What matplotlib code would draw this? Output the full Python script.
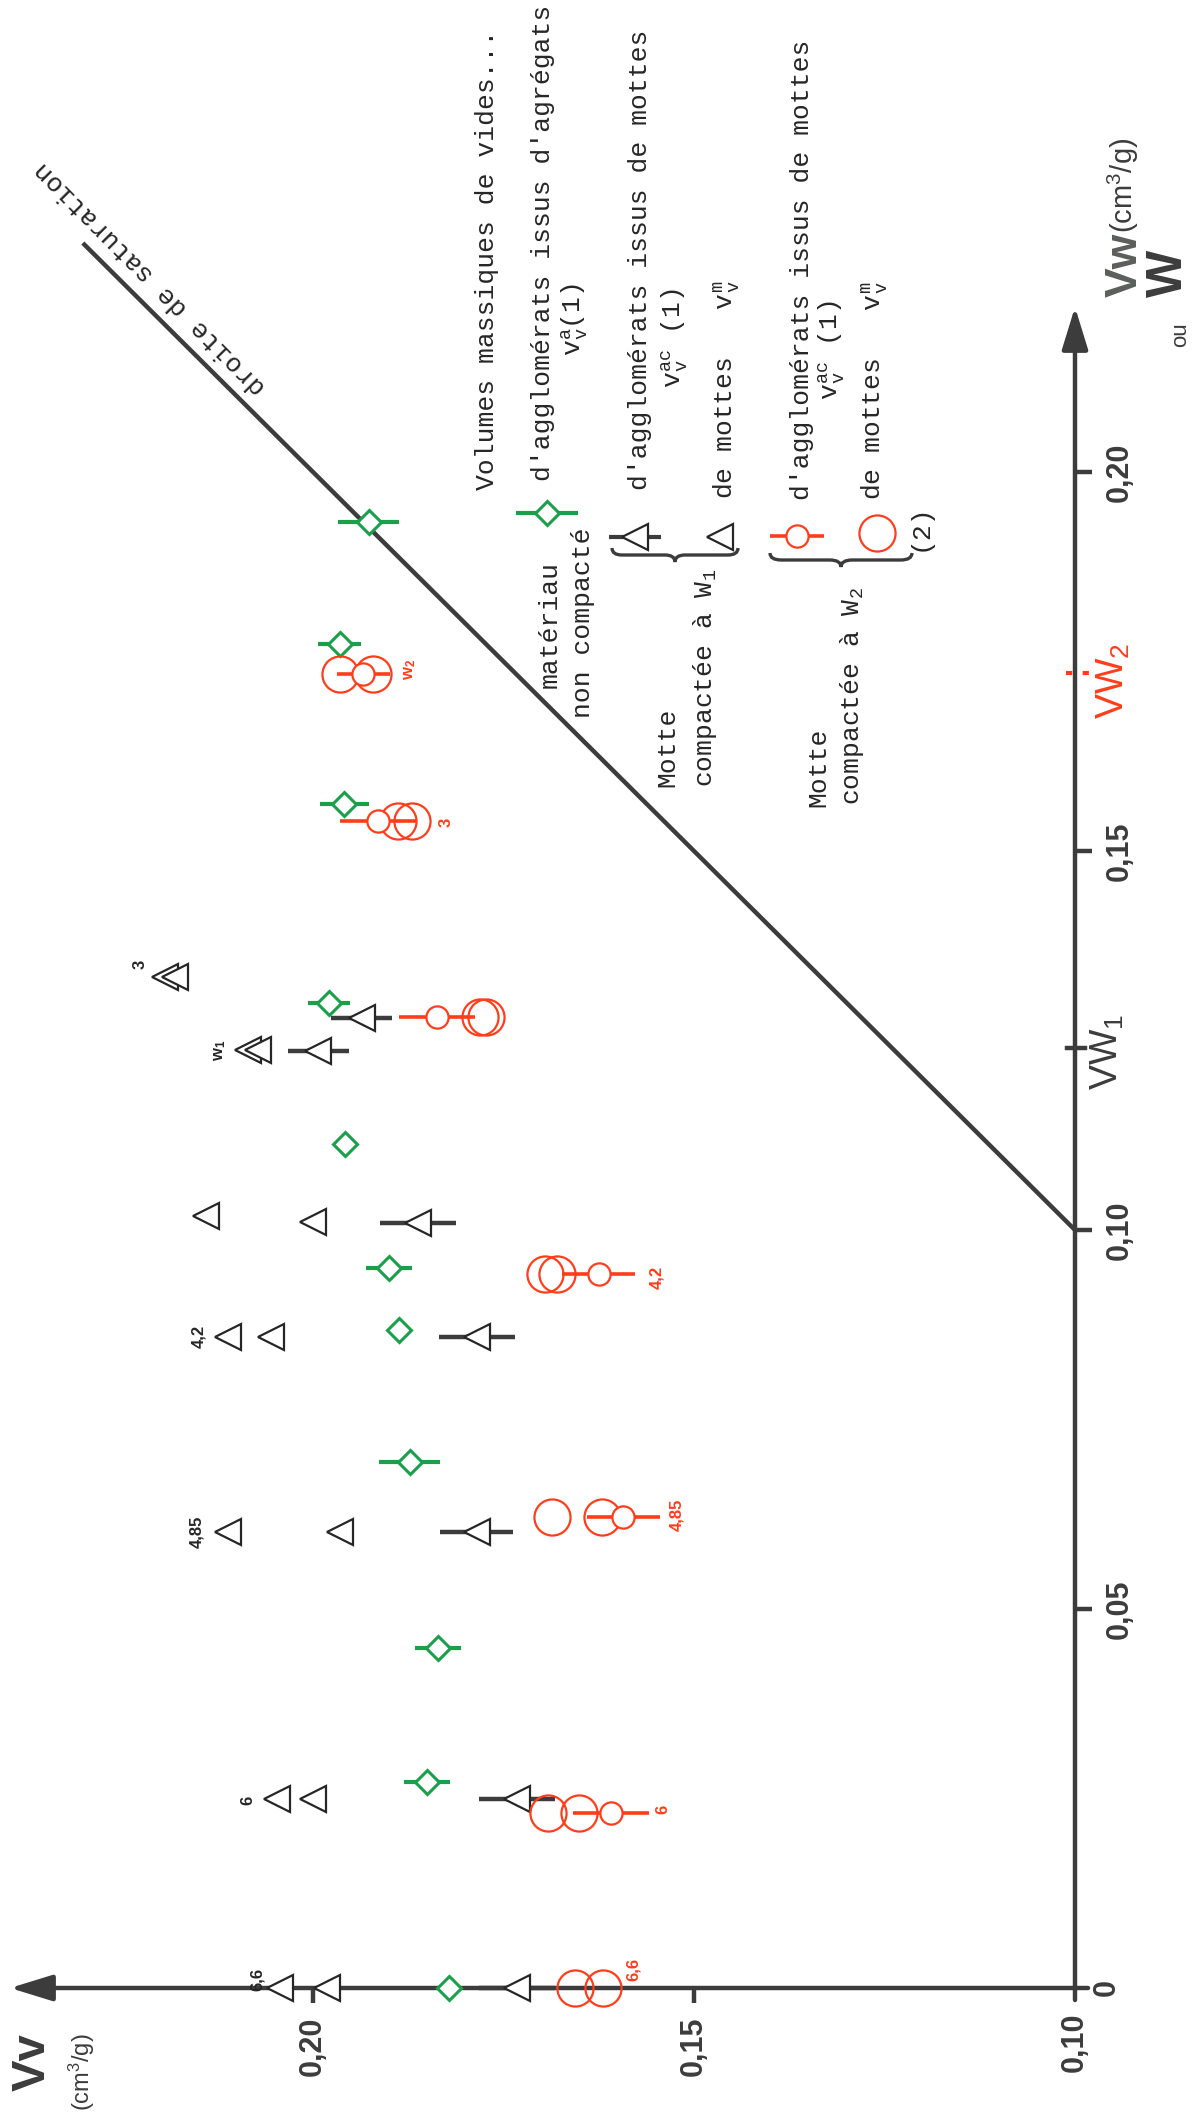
import matplotlib.pyplot as plt
import numpy as np
from matplotlib.path import Path
from matplotlib.patches import PathPatch

# volumes massiques de vides Vv (cm3/g) against water content W
# matériau non compacté : agglomérats issus d'agrégats (green diamonds)
w_agg = [0.0, 0.0272, 0.0449, 0.0694, 0.0868, 0.0950, 0.1113, 0.1299, 0.1562, 0.1773, 0.1934]
vv_agg = [0.1822, 0.1850, 0.1836, 0.1873, 0.1887, 0.1900, 0.1958, 0.1979, 0.1959, 0.1965, 0.1927]
err_agg = [0.0, 0.0030, 0.0030, 0.0040, 0.0015, 0.0030, 0.0, 0.0028, 0.0032, 0.0028, 0.0040]

# motte compactée à W1 : agglomérats issus de mottes (with bar) and mottes
w_ac1 = [0.0, 0.0249, 0.0602, 0.0859, 0.1009, 0.1236, 0.1280]
vv_ac1 = [0.1732, 0.1732, 0.1785, 0.1785, 0.1862, 0.1993, 0.1936]
err_ac1 = [0.0050, 0.0050, 0.0048, 0.0050, 0.0050, 0.0040, 0.0040]
w_m1 = [0.0, 0.0, 0.0249, 0.0249, 0.0602, 0.0602, 0.0859, 0.0859, 0.1018, 0.1011, 0.1237, 0.1237, 0.1334, 0.1334]
vv_m1 = [0.2043, 0.1982, 0.2047, 0.2000, 0.2112, 0.1965, 0.2112, 0.2055, 0.2140, 0.2000, 0.2085, 0.2072, 0.2194, 0.2181]

# motte compactée à W2
w_ac2 = [0.0231, 0.0621, 0.0942, 0.1281, 0.1540, 0.1734]
vv_ac2 = [0.1609, 0.1593, 0.1625, 0.1837, 0.1915, 0.1934]
err_ac2 = [0.0050, 0.0048, 0.0048, 0.0050, 0.0050, 0.0035]
w_m2 = [0.0, 0.0, 0.0231, 0.0231, 0.0621, 0.0621, 0.0942, 0.0942, 0.1281, 0.1281, 0.1540, 0.1540, 0.1734, 0.1734]
vv_m2 = [0.1656, 0.1619, 0.1692, 0.1651, 0.1686, 0.1621, 0.1696, 0.1680, 0.1781, 0.1773, 0.1888, 0.1870, 0.1965, 0.1921]

# sample labels (water content of the clods)
lab_m1 = ['6,6', '6', '4,85', '4,2', r'w$\mathregular{_1}$', '3']
lab_m1_vv = [0.2073, 0.2085, 0.2152, 0.2150, 0.2122, 0.2227]
lab_m1_w = [0.0011, 0.0248, 0.0602, 0.0860, 0.1237, 0.1350]
lab_m2 = ['6,6', '6', '4,85', '4,2', '3', r'w$\mathregular{_2}$']
lab_m2_vv = [0.1580, 0.1541, 0.1522, 0.1549, 0.1825, 0.1873]
lab_m2_w = [0.0024, 0.0235, 0.0624, 0.0938, 0.1538, 0.1739]

# saturation line Vv = W
sat_w = [0.10, 0.2300]

vv_ticks = [0.15, 0.20]
vv_ticklabels = ['0,15', '0,20']
w_ticks = [0.05, 0.10, 0.15, 0.20]
w_ticklabels = ['0,05', '0,10', '0,15', '0,20']
W1 = 0.124
W2 = 0.1735

GREEN = '#1a9f4a'
RED = '#ff3d1a'
DARK = '#3c3c3c'
BLACK = '#262626'
MONO = 'Liberation Mono'
SANS = 'Liberation Sans'

# the scan is turned a quarter turn: Vv runs to the left, W runs up
X0, Y0 = 1075, 1988
PX_V, PX_W = 7620, 7580


def px_v(x):
    return 0.10 + (X0 - x) / PX_V


def px_w(y):
    return (Y0 - y) / PX_W


fig = plt.figure(figsize=(11.92, 21.26), dpi=100)
ax = fig.add_axes([0, 0, 1, 1])
ax.set_xlim(px_v(0), px_v(1192))
ax.set_ylim(px_w(2126), px_w(0))
ax.axis('off')

# axes with arrows
arrow = dict(arrowstyle='-|>,head_length=1.3,head_width=0.4', color=DARK, lw=3.2,
             shrinkA=0, shrinkB=0, mutation_scale=20)
ax.annotate('', xy=(px_v(10), 0), xytext=(px_v(1088), 0), arrowprops=arrow)
ax.annotate('', xy=(0.10, px_w(307)), xytext=(0.10, px_w(2000)), arrowprops=arrow)

for t in vv_ticks:
    ax.plot([t, t], [0, px_w(2003)], color=DARK, lw=3.2, solid_capstyle='butt')
for t in w_ticks:
    ax.plot([0.10, px_v(1092)], [t, t], color=DARK, lw=3.2, solid_capstyle='butt')
ax.plot([px_v(1067), px_v(1085)], [W1, W1], color=DARK, lw=3.2)
ax.plot([px_v(1066), px_v(1090)], [W2, W2], color=RED, lw=3, ls=(0, (1.5, 2.5)))

bold = dict(family=SANS, weight='bold', rotation=90, ha='center', va='center', color=DARK)
for t, s in zip(vv_ticks, vv_ticklabels):
    ax.text(t, px_w(2046), s, fontsize=22, **bold)
ax.text(0.10, px_w(2042), '0,10', fontsize=22, **bold)
for t, s in zip(w_ticks, w_ticklabels):
    ax.text(px_v(1120), t, s, fontsize=22, **bold)
ax.text(px_v(1107), 0, '0', fontsize=22, **bold)

ax.text(px_v(33), px_w(2062), 'Vv', fontsize=34, **bold)
ax.text(px_v(82), px_w(2072), r'(cm$\mathregular{^3}$/g)', fontsize=17, family=SANS,
        rotation=90, ha='center', va='center', color=DARK)
ax.text(px_v(1125), px_w(265), 'Vw', fontsize=32, family=SANS, weight='bold', rotation=90,
        ha='center', va='center', color='#5a5f5c')
ax.text(px_v(1123), px_w(185), r'(cm$\mathregular{^3}$/g)', fontsize=21, family=SANS,
        rotation=90, ha='center', va='center', color=DARK)
ax.text(px_v(1169), px_w(273), 'W', fontsize=36, **bold)
ax.text(px_v(1181), px_w(335), 'ou', fontsize=16, family=SANS, rotation=90,
        ha='center', va='center', color=DARK)
ax.text(px_v(1107), W1 - 0.0005, r'VW$\mathregular{_1}$', fontsize=27, family=SANS,
        rotation=90, ha='center', va='center', color=DARK)
ax.text(px_v(1113), W2 - 0.001, r'VW$\mathregular{_2}$', fontsize=27, family=SANS,
        rotation=90, ha='center', va='center', color=RED)

# droite de saturation
ax.plot(sat_w, sat_w, color=DARK, lw=3.2)
ax.text(px_v(150), px_w(278), 'droite de saturation', fontsize=19, family=MONO,
        rotation=134.8, ha='center', va='center', color=BLACK)

# style of each kind of point
diamond = dict(ls='none', marker='D', ms=12.5, mfc='white', mec=GREEN, mew=2.2, zorder=4)
tri = dict(ls='none', marker='<', ms=19, mfc='white', mec=BLACK, mew=1.6, zorder=4)
small_c = dict(ls='none', marker='o', ms=16, mfc='white', mec=RED, mew=1.6, zorder=4)
big_c = dict(ls='none', marker='o', ms=26, mfc='none', mec=RED, mew=1.6, zorder=4)

ax.errorbar(vv_agg, w_agg, xerr=err_agg, fmt='none', ecolor=GREEN, elinewidth=3, capsize=0, zorder=3)
ax.plot(vv_agg, w_agg, **diamond)
ax.errorbar(vv_ac1, w_ac1, xerr=err_ac1, fmt='none', ecolor=DARK, elinewidth=3.2, capsize=0, zorder=3)
ax.plot(vv_ac1, w_ac1, **tri)
ax.plot(vv_m1, w_m1, **tri)
ax.errorbar(vv_ac2, w_ac2, xerr=err_ac2, fmt='none', ecolor=RED, elinewidth=2.6, capsize=0, zorder=3)
ax.plot(vv_m2, w_m2, **big_c)
ax.plot(vv_ac2, w_ac2, **small_c)

for s, v, w in zip(lab_m1, lab_m1_vv, lab_m1_w):
    ax.text(v, w, s, fontsize=12, family=SANS, weight='bold', rotation=90,
            ha='center', va='center', color=BLACK)
for s, v, w in zip(lab_m2, lab_m2_vv, lab_m2_w):
    ax.text(v, w, s, fontsize=12, family=SANS, weight='bold', rotation=90,
            ha='center', va='center', color=RED)


# legend, written sideways like the scan
def line(x, y, s, fs=19, ha='left', color=BLACK):
    ax.text(px_v(x), px_w(y), s, fontsize=fs, family=MONO, rotation=90,
            rotation_mode='anchor', ha=ha, va='center', color=color)


def brace(x0, x1, y, depth, color):
    v0, v1, w = px_v(x0), px_v(x1), px_w(y)
    d = depth / PX_W
    mid = (v0 + v1) / 2
    q = (v1 - v0) * 0.08
    verts = [(v0, w), (v0, w - d / 2), (v0 + q, w - d / 2),
             (mid - q, w - d / 2), (mid, w - d / 2), (mid, w - d),
             (mid, w - d / 2), (mid + q, w - d / 2),
             (v1 - q, w - d / 2), (v1, w - d / 2), (v1, w)]
    codes = [Path.MOVETO, Path.CURVE3, Path.CURVE3, Path.LINETO, Path.CURVE3, Path.CURVE3,
             Path.CURVE3, Path.CURVE3, Path.LINETO, Path.CURVE3, Path.CURVE3]
    ax.add_patch(PathPatch(Path(verts, codes), fc='none', ec=color, lw=2.4))


line(487, 490, 'Volumes massiques de vides...')
line(543, 481, "d'agglomérats issus d'agrégats")
line(575, 320, r'v$\mathregular{_v^a}$(1)', ha='center')
line(550, 625, 'matériau', ha='center')
line(583, 623, 'non compacté', ha='center')
line(640, 490, "d'agglomérats issus de mottes")
line(675, 338, r'v$\mathregular{_v^{ac}}$ (1)', ha='center')
line(727, 499, r'de mottes   v$\mathregular{_v^m}$')
line(667, 787, 'Motte')
line(705, 787, r'compactée à W$\mathregular{_1}$')
line(802, 500, "d'agglomérats issus de mottes")
line(832, 350, r'v$\mathregular{_v^{ac}}$ (1)', ha='center')
line(875, 500, r'de mottes   v$\mathregular{_v^m}$')
line(920, 527, '(2)', ha='center')
line(818, 807, 'Motte')
line(852, 805, r'compactée à W$\mathregular{_2}$')
brace(612, 738, 548, 14, DARK)
brace(770, 912, 553, 14, DARK)

ax.errorbar([px_v(547)], [px_w(513)], xerr=[31 / PX_V], fmt='none', ecolor=GREEN, elinewidth=3, zorder=3)
ax.plot([px_v(547)], [px_w(513)], **diamond)
ax.errorbar([px_v(635)], [px_w(537)], xerr=[26 / PX_V], fmt='none', ecolor=DARK, elinewidth=3, zorder=3)
ax.plot([px_v(635)], [px_w(537)], **tri)
ax.plot([px_v(720)], [px_w(537)], **tri)
ax.errorbar([px_v(797)], [px_w(536)], xerr=[27 / PX_V], fmt='none', ecolor=RED, elinewidth=2.6, zorder=3)
ax.plot([px_v(797)], [px_w(536)], **small_c)
ax.plot([px_v(877)], [px_w(533)], **big_c)

fig.savefig('out.png', dpi=100)
